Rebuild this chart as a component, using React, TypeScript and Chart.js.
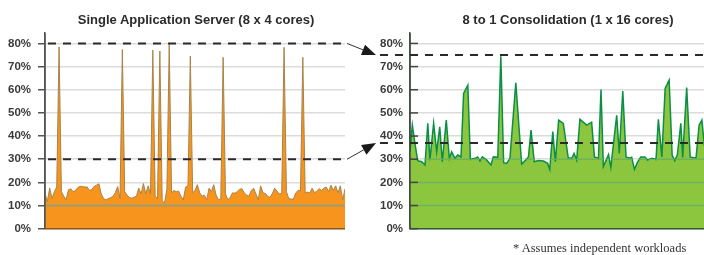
import { useEffect, useRef } from "react";
import { Chart, registerables } from "chart.js";

Chart.register(...registerables);

const leftTitle = "Single Application Server (8 x 4 cores)";
const rightTitle = "8 to 1 Consolidation (1 x 16 cores)";
const footnote = "* Assumes independent workloads";

const yTickValues = [0, 10, 20, 30, 40, 50, 60, 70, 80];
const yMax = 84.5;

// Left chart: utilisation samples (%), evenly spaced in time
const leftValues = [
  15.3, 11.7, 17.6, 13, 16, 18, 78.5, 16, 14, 12.5,
  16.8, 17.2, 16, 16.5, 17.8, 18.3, 18.2, 18, 18, 16.5,
  17, 18.3, 18.8, 19.4, 15, 13, 12.4, 13, 13.4, 14,
  15.5, 18.2, 13, 77.4, 16, 14.5, 13.5, 13.2, 13.6, 14,
  17.5, 15, 19.5, 15, 18.5, 15, 77.1, 14, 13, 76.7,
  12, 11.2, 17, 79.6, 15.5, 16.5, 16, 16.3, 14, 12.5,
  18, 18.5, 74.5, 15.5, 16.5, 19, 15.5, 14, 14.5, 12.5,
  17.5, 16, 19, 14.5, 12.5, 12.8, 74, 15, 12.5, 13.5,
  15.5, 15.3, 16, 17, 17.3, 15.5, 14.5, 14, 16.5, 17.5,
  15, 12.5, 18.5, 15.5, 15.2, 14, 13.5, 15.2, 17.5, 16.2,
  15, 15.3, 78.3, 16, 13, 12.8, 12.8, 15.5, 16.5, 16.5,
  74, 15.5, 15.8, 15.5, 17.5, 15.5, 16.3, 17.3, 16.5, 17.5,
  18, 16, 18.8, 16.5, 18.5, 15.5, 18.5, 12.5, 17.2,
];
const leftTimeMax = 128;

// Right chart: sample times and utilisation (%)
const rightTimes = [
  0, 1.0, 2.1, 3.3, 5.0, 6.4, 7.6, 8.5, 10.1, 11.4,
  12.7, 13.8, 15.5, 16.8, 17.8, 19.2, 20.4, 21.8, 22.9, 24.7,
  25.8, 27.8, 28.9, 29.9, 30.9, 32.8, 34.6, 35.6, 37.5, 38.8,
  40.0, 41.3, 42.7, 45.2, 47.7, 49.4, 50.6, 51.7, 53.1, 54.8,
  57.0, 58.8, 59.7, 61.0, 62.1, 63.5, 65.5, 67.6, 69.1, 70.1,
  71.2, 72.6, 75.5, 77.6, 78.8, 80.5, 81.6, 82.6, 83.8, 84.8,
  85.8, 88.3, 89.4, 90.9, 92.3, 93.7, 94.7, 95.9, 97.1, 98.6,
  100.4, 101.4, 103.3, 105.1, 106.1, 107.6, 109.0, 110.7, 112.0, 113.1,
  114.2, 115.7, 116.5, 118.2, 119.7, 121.1, 122.2, 123.5, 124.7, 125.6,
  127, 128.5, 131, 133, 135,
];
const rightValues = [
  33.2, 44.7, 36.8, 29.4, 28.9, 27.5, 45.5, 29.6, 45.5, 33.2,
  44, 28.9, 46.9, 30.4, 33.2, 30.4, 31.8, 31, 58.4, 62,
  29.9, 30.4, 31, 29.2, 31, 29.6, 27.5, 31, 30.8, 74.5,
  28.5, 28.2, 30.4, 63, 27.9, 29.6, 31, 42.6, 28.9, 29.4,
  29.2, 28.2, 25.6, 41.9, 28.9, 46.9, 45.5, 30.6, 30.4, 32.5,
  29.6, 47.2, 44.7, 46, 31, 30.4, 60.1, 26.8, 29.6, 32,
  26.5, 49, 32.5, 59.4, 31, 30.4, 30.8, 25.6, 28.5, 31,
  31, 29.6, 30.4, 29.9, 47.2, 31, 60.6, 64.2, 31.8, 29.4,
  31.8, 45.5, 30.8, 61, 31, 30.6, 30.6, 44.7, 46.9, 37.6,
  44, 31, 30.5, 45, 31,
];
const rightTimeMax = 135;

const leftThresholds = [80, 30];
const rightThresholds = [75, 37];
const leftOverlayLevels = [10];
const rightOverlayLevels = [10, 20, 30];

type Deco = {
  thresholds: number[];
  dashStart: number;
  overlayLevels: number[];
  overlayColor: string;
  overlayWidth: number;
  bottomColor: string;
  axisColor: string;
  insideTicks: boolean;
  arrows: [number, number][] | null;
};

function decoPlugin(d: Deco) {
  return {
    id: "deco",
    afterDatasetsDraw(chart: any) {
      const ctx = chart.ctx as CanvasRenderingContext2D;
      const area = chart.chartArea;
      const ys = chart.scales.y;
      const meta = chart.getDatasetMeta(0);
      const pts = meta.data as any[];
      const yb = ys.getPixelForValue(0);

      // lines visible through the filled area
      ctx.save();
      ctx.beginPath();
      ctx.rect(area.left, area.top, area.right - area.left, area.bottom - area.top);
      ctx.clip();
      ctx.beginPath();
      ctx.moveTo(pts[0].x, yb);
      pts.forEach((p) => ctx.lineTo(p.x, p.y));
      ctx.lineTo(pts[pts.length - 1].x, yb);
      ctx.closePath();
      ctx.clip();
      ctx.strokeStyle = d.overlayColor;
      ctx.lineWidth = d.overlayWidth;
      d.overlayLevels.forEach((lv) => {
        const y = ys.getPixelForValue(lv);
        ctx.beginPath();
        ctx.moveTo(area.left, y);
        ctx.lineTo(area.right, y);
        ctx.stroke();
      });
      ctx.restore();

      ctx.save();
      // bottom axis line
      ctx.strokeStyle = d.bottomColor;
      ctx.lineWidth = 1.5;
      ctx.beginPath();
      ctx.moveTo(area.left, yb);
      ctx.lineTo(area.right, yb);
      ctx.stroke();
      // left axis line
      ctx.strokeStyle = d.axisColor;
      ctx.beginPath();
      ctx.moveTo(area.left, area.top);
      ctx.lineTo(area.left, area.bottom);
      ctx.stroke();
      if (d.insideTicks) {
        ctx.strokeStyle = "#444";
        yTickValues.forEach((v) => {
          const y = ys.getPixelForValue(v);
          ctx.beginPath();
          ctx.moveTo(area.left, y);
          ctx.lineTo(area.left + 8, y);
          ctx.stroke();
        });
      }
      // dashed thresholds
      ctx.strokeStyle = "#2a2a2a";
      ctx.lineWidth = 2;
      ctx.setLineDash([8, 7]);
      d.thresholds.forEach((t) => {
        const y = ys.getPixelForValue(t);
        ctx.beginPath();
        ctx.moveTo(area.left + d.dashStart, y);
        ctx.lineTo(area.right, y);
        ctx.stroke();
      });
      ctx.setLineDash([]);
      // arrows from left thresholds to right thresholds
      if (d.arrows) {
        d.arrows.forEach(([from, to]) => {
          const x1 = area.left - 63;
          const y1 = ys.getPixelForValue(from);
          const x2 = area.left - 34;
          const y2 = ys.getPixelForValue(to);
          const ang = Math.atan2(y2 - y1, x2 - x1);
          const hl = 14;
          const hw = 5.5;
          const bx = x2 - hl * Math.cos(ang);
          const by = y2 - hl * Math.sin(ang);
          ctx.strokeStyle = "#333";
          ctx.lineWidth = 1;
          ctx.beginPath();
          ctx.moveTo(x1, y1);
          ctx.lineTo(bx, by);
          ctx.stroke();
          ctx.fillStyle = "#1a1a1a";
          ctx.beginPath();
          ctx.moveTo(x2, y2);
          ctx.lineTo(bx + hw * Math.sin(ang), by - hw * Math.cos(ang));
          ctx.lineTo(bx - hw * Math.sin(ang), by + hw * Math.cos(ang));
          ctx.closePath();
          ctx.fill();
        });
      }
      ctx.restore();
    },
  };
}

function buildConfig(
  xs: number[],
  vals: number[],
  xMax: number,
  fillColor: string,
  lineColor: string,
  lineWidth: number,
  axisWidth: number,
  padRight: number,
  outsideTicks: boolean,
  deco: Deco
): any {
  return {
    type: "line",
    data: {
      datasets: [
        {
          data: vals.map((v, i) => ({ x: xs[i], y: v })),
          fill: "origin",
          backgroundColor: fillColor,
          borderColor: lineColor,
          borderWidth: lineWidth,
          pointRadius: 0,
          tension: 0,
        },
      ],
    },
    options: {
      animation: false,
      responsive: false,
      maintainAspectRatio: false,
      layout: { padding: { left: 0, right: padRight, top: 33, bottom: 26.3 } },
      plugins: { legend: { display: false }, tooltip: { enabled: false }, title: { display: false } },
      scales: {
        x: { type: "linear", display: false, min: 0, max: xMax },
        y: {
          min: 0,
          max: yMax,
          afterFit: (s: any) => {
            s.width = axisWidth;
          },
          afterBuildTicks: (s: any) => {
            s.ticks = yTickValues.map((v) => ({ value: v }));
          },
          ticks: {
            padding: 7,
            color: "#3a3a3a",
            font: { family: "'Liberation Sans', Arial, sans-serif", weight: "bold", size: 11.5 },
            callback: (v: any) => v + "%",
          },
          grid: {
            color: "#dcdcdc",
            lineWidth: 1.5,
            drawTicks: outsideTicks,
            tickLength: 7,
            tickColor: "#555",
            tickWidth: 1.5,
          },
          border: { color: "#555", width: 1.5 },
        },
      },
    },
    plugins: [decoPlugin(deco)],
  };
}

export default function App() {
  const leftRef = useRef<HTMLCanvasElement | null>(null);
  const rightRef = useRef<HTMLCanvasElement | null>(null);

  useEffect(() => {
    const leftXs = leftValues.map((_, i) => i);
    const left = new Chart(
      leftRef.current!,
      buildConfig(leftXs, leftValues, leftTimeMax, "#f7941d", "#a8844a", 1, 45, 5, true, {
        thresholds: leftThresholds,
        dashStart: 3,
        overlayLevels: leftOverlayLevels,
        overlayColor: "#9c9c74",
        overlayWidth: 2,
        bottomColor: "#8a5a1e",
        axisColor: "#555",
        insideTicks: false,
        arrows: null,
      })
    );
    const right = new Chart(
      rightRef.current!,
      buildConfig(rightTimes, rightValues, rightTimeMax, "#8cc63f", "#0b8f47", 1.5, 70, 4, false, {
        thresholds: rightThresholds,
        dashStart: -30,
        overlayLevels: rightOverlayLevels,
        overlayColor: "#6db35e",
        overlayWidth: 1.5,
        bottomColor: "#2f5a33",
        axisColor: "#3d4d3d",
        insideTicks: true,
        arrows: [
          [leftThresholds[0], rightThresholds[0]],
          [leftThresholds[1], rightThresholds[1]],
        ],
      })
    );
    return () => {
      left.destroy();
      right.destroy();
    };
  }, []);

  const titleStyle: any = {
    position: "absolute",
    top: 12,
    lineHeight: "15px",
    fontFamily: "'Liberation Sans', Arial, sans-serif",
    fontWeight: "bold",
    fontSize: 13,
    color: "#2b2b2b",
    textAlign: "center",
    whiteSpace: "nowrap",
  };

  return (
    <div
      style={{
        position: "absolute",
        left: 0,
        top: 0,
        width: 704,
        height: 255,
        overflow: "hidden",
        background: "#fff",
      }}
    >
      <canvas
        ref={leftRef}
        width={350}
        height={255}
        style={{ position: "absolute", left: 0, top: 0, width: 350, height: 255 }}
      />
      <canvas
        ref={rightRef}
        width={390}
        height={255}
        style={{ position: "absolute", left: 340, top: 0, width: 390, height: 255 }}
      />
      <div style={{ ...titleStyle, left: 0, width: 392 }}>{leftTitle}</div>
      <div style={{ ...titleStyle, left: 432, width: 272 }}>{rightTitle}</div>
      <div
        style={{
          position: "absolute",
          left: 513,
          top: 241,
          lineHeight: "14px",
          fontFamily: "'Liberation Serif', 'Times New Roman', serif",
          fontSize: 12.5,
          color: "#333",
          whiteSpace: "nowrap",
        }}
      >
        {footnote}
      </div>
    </div>
  );
}
